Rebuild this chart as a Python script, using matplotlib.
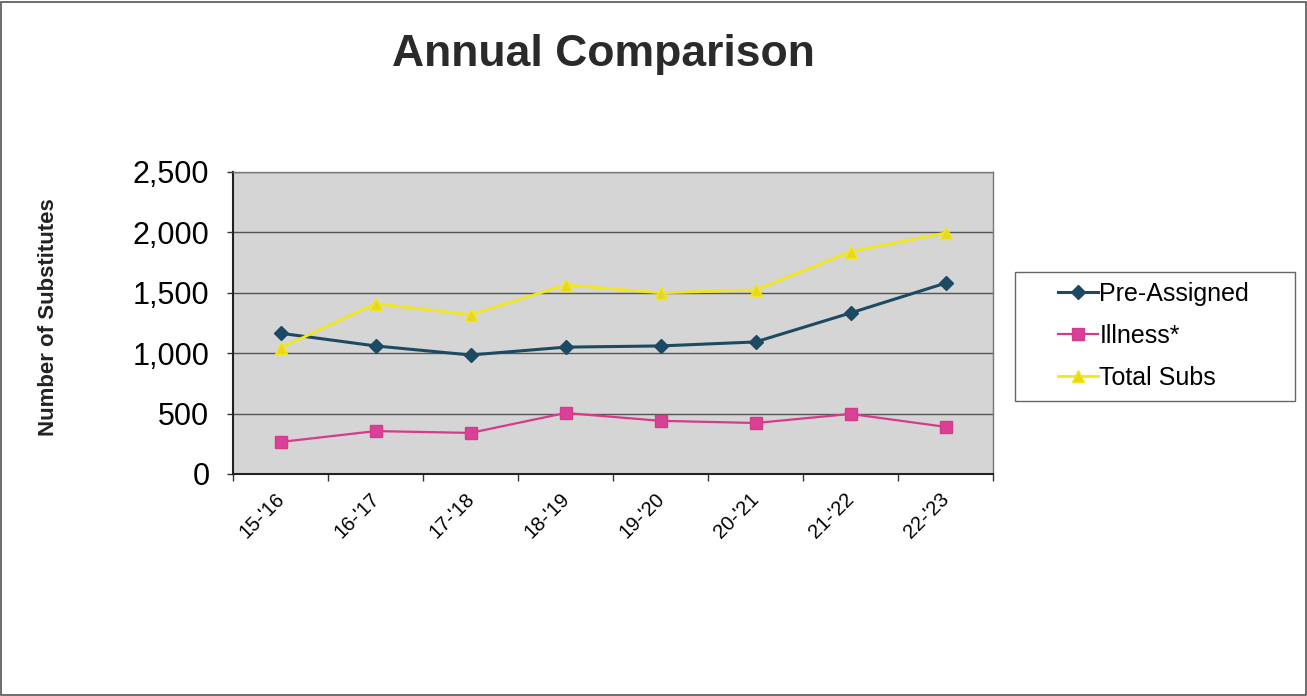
import matplotlib.pyplot as plt
import matplotlib.transforms as mtransforms
from matplotlib.patches import Rectangle
from matplotlib.ticker import FuncFormatter

# Data
seasons = ["15-'16", "16-'17", "17-'18", "18-'19", "19-'20", "20-'21", "21-'22", "22-'23"]
pre_assigned = [1165, 1060, 985, 1050, 1060, 1093, 1333, 1580]
illness = [265, 355, 340, 505, 440, 422, 497, 390]
total_subs = [1043, 1410, 1318, 1565, 1500, 1523, 1840, 1995]

plt.rcParams['font.family'] = ['Liberation Sans', 'DejaVu Sans']

fig = plt.figure(figsize=(13.07, 6.96), dpi=100)
ax = fig.add_axes([0.1783, 0.319, 0.5815, 0.4339])

x = range(len(seasons))
ax.plot(x, pre_assigned, marker='D', markersize=7, color='#1d4a63', linewidth=2.2, label='Pre-Assigned')
ax.plot(x, illness, marker='s', markersize=8, color='#d63a8a', markerfacecolor='#d94096', linewidth=1.6, label='Illness*')
ax.plot(x, total_subs, marker='^', markersize=9, color='#f2e61e', markerfacecolor='#e8d81a', linewidth=2.0, label='Total Subs')

ax.set_facecolor('#d5d5d5')
ax.set_xlim(-0.5, len(seasons) - 0.5)
ax.set_ylim(0, 2500)
ax.set_yticks([0, 500, 1000, 1500, 2000, 2500])
ax.yaxis.set_major_formatter(FuncFormatter(lambda v, p: f'{int(v):,}'))
ax.grid(axis='y', color='#555555', linewidth=1.0)
ax.set_axisbelow(True)

# category labels centered, tick marks at boundaries
ax.set_xticks(list(x))
ax.set_xticklabels(seasons, rotation=45, ha='right', rotation_mode='anchor', fontsize=14.5)
ax.set_xticks([i + 0.5 for i in range(-1, len(seasons))], minor=True)
ax.tick_params(axis='x', which='major', length=0, pad=11)
ax.tick_params(axis='x', which='minor', length=5, width=1, color='#333333')
ax.tick_params(axis='y', labelsize=22, length=4, width=1, color='#333333', pad=13)

# nudge rotated labels a little to the left
shift = mtransforms.ScaledTranslation(-6 / 100, 0, fig.dpi_scale_trans)
for lab in ax.get_xticklabels():
    lab.set_transform(lab.get_transform() + shift)

for s in ['left', 'bottom']:
    ax.spines[s].set_color('#222222')
    ax.spines[s].set_linewidth(1.5)
for s in ['top', 'right']:
    ax.spines[s].set_color('#777777')
    ax.spines[s].set_linewidth(1.0)

fig.text(0.462, 0.922, 'Annual Comparison', ha='center', va='center', fontsize=32, fontweight='bold', color='#2a2a2a')
fig.text(0.037, 0.545, 'Number of Substitutes', ha='center', va='center', rotation=90, fontsize=16, fontweight='bold', color='#222222')

# legend box drawn separately to get the wide Excel-style padding
fig.patches.append(Rectangle((0.7766, 0.4239), 0.2142, 0.1853, transform=fig.transFigure, facecolor='white',
                             edgecolor='#666666', linewidth=1.0))
leg = fig.legend(loc='center left', bbox_to_anchor=(0.8095, 0.5172), fontsize=18, frameon=False,
                 handlelength=1.6, handletextpad=0.05, borderpad=0, labelspacing=0.72, borderaxespad=0)

# thin border around the whole chart
fig.patches.append(Rectangle((0.001, 0.002), 0.998, 0.995, transform=fig.transFigure, fill=False,
                             edgecolor='#555555', linewidth=1.2))

plt.savefig('out.png', dpi=100)
